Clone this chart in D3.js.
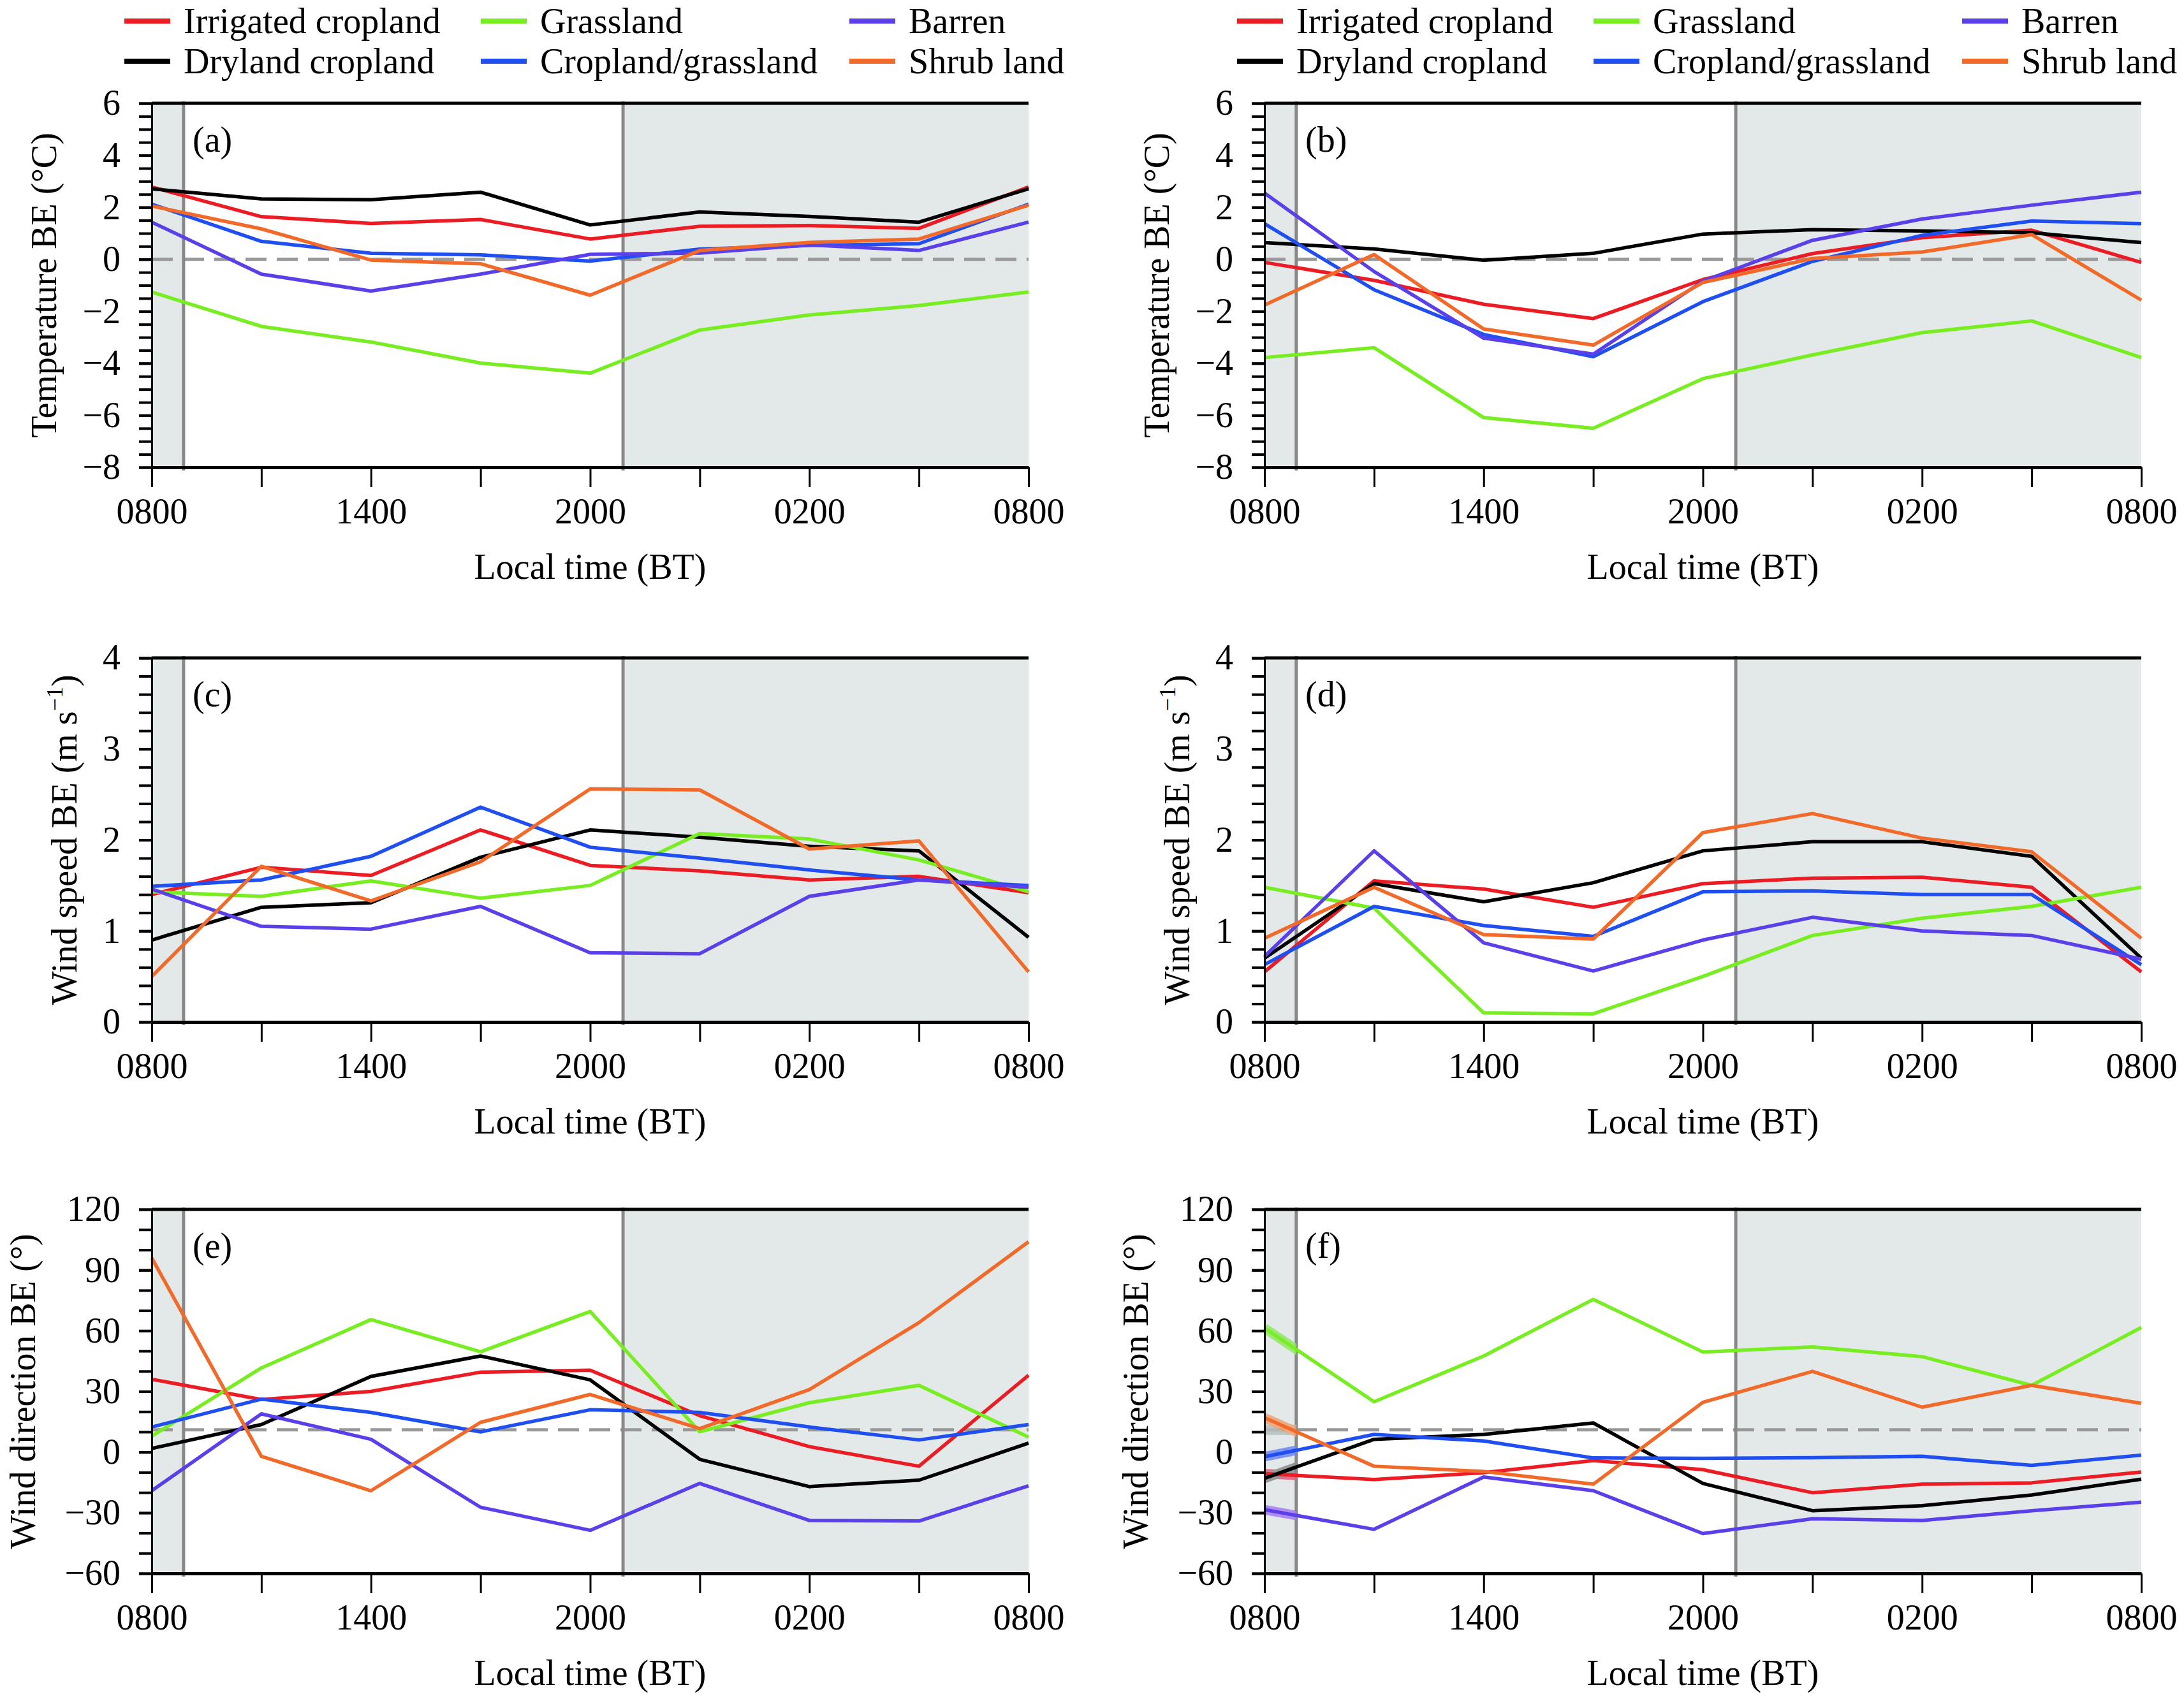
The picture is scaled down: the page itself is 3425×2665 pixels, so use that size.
<!DOCTYPE html>
<html>
<head>
<meta charset="utf-8">
<script src="https://cdn.jsdelivr.net/npm/d3@7"></script>
<style>
  body { margin: 0; background: #fff; }
  svg text { font-family: "Liberation Serif", "Times New Roman", serif; fill: #000; }
</style>
</head>
<body>
<svg id="chart" width="3425" height="2665"></svg>
<script>
// hours after 0800 BT, one point every 3 h
const hours = [0, 3, 6, 9, 12, 15, 18, 21, 24];
const labelHours = [0, 6, 12, 18, 24];
const timeLabels = ["0800", "1400", "2000", "0200", "0800"];
const sunriseHour = 0.87, sunsetHour = 12.9;

const seriesNames = ["Irrigated cropland", "Dryland cropland", "Grassland",
                     "Cropland/grassland", "Barren", "Shrub land"];

// rows follow seriesNames
const tempA = [
  [2.78, 1.64, 1.38, 1.53, 0.78, 1.27, 1.30, 1.19, 2.78],
  [2.71, 2.32, 2.29, 2.58, 1.32, 1.82, 1.65, 1.43, 2.71],
  [-1.26, -2.58, -3.18, -3.99, -4.38, -2.72, -2.14, -1.78, -1.26],
  [2.12, 0.69, 0.23, 0.17, -0.07, 0.39, 0.53, 0.60, 2.12],
  [1.43, -0.57, -1.22, -0.57, 0.19, 0.24, 0.55, 0.34, 1.43],
  [2.05, 1.17, -0.03, -0.17, -1.38, 0.34, 0.65, 0.78, 2.08]
];
const tempB = [
  [-0.12, -0.81, -1.73, -2.28, -0.78, 0.22, 0.83, 1.12, -0.12],
  [0.64, 0.40, -0.04, 0.23, 0.97, 1.14, 1.09, 1.02, 0.64],
  [-3.78, -3.40, -6.09, -6.50, -4.59, -3.68, -2.82, -2.37, -3.78],
  [1.37, -1.17, -2.89, -3.75, -1.63, -0.08, 0.92, 1.47, 1.37],
  [2.55, -0.47, -3.03, -3.65, -0.84, 0.73, 1.55, 2.08, 2.58],
  [-1.76, 0.18, -2.68, -3.30, -0.89, 0.03, 0.28, 0.95, -1.57]
];
const speedC = [
  [1.40, 1.70, 1.61, 2.11, 1.72, 1.66, 1.56, 1.60, 1.42],
  [0.90, 1.26, 1.31, 1.81, 2.11, 2.03, 1.93, 1.88, 0.93],
  [1.43, 1.38, 1.55, 1.36, 1.50, 2.07, 2.01, 1.78, 1.43],
  [1.49, 1.56, 1.82, 2.36, 1.92, 1.80, 1.67, 1.56, 1.50],
  [1.46, 1.05, 1.02, 1.27, 0.76, 0.75, 1.38, 1.56, 1.48],
  [0.50, 1.71, 1.33, 1.76, 2.56, 2.55, 1.90, 1.99, 0.55]
];
const speedD = [
  [0.55, 1.55, 1.46, 1.26, 1.52, 1.58, 1.59, 1.48, 0.55],
  [0.70, 1.52, 1.32, 1.53, 1.88, 1.98, 1.98, 1.82, 0.70],
  [1.48, 1.25, 0.10, 0.09, 0.50, 0.95, 1.14, 1.27, 1.48],
  [0.63, 1.27, 1.06, 0.94, 1.43, 1.44, 1.40, 1.40, 0.63],
  [0.72, 1.88, 0.87, 0.56, 0.90, 1.15, 1.00, 0.95, 0.69],
  [0.92, 1.48, 0.96, 0.91, 2.08, 2.29, 2.02, 1.87, 0.92]
];
const dirE = [
  [36, 26, 30, 39.5, 40.5, 18, 2.7, -7, 38],
  [1.8, 13.6, 37.4, 47.5, 35.7, -3.6, -17.1, -13.9, 4.4],
  [7.9, 41.6, 65.5, 49.6, 69.5, 10, 24.4, 33, 7.4],
  [12.4, 26.2, 19.6, 10, 20.9, 19.6, 12.4, 6, 13.6],
  [-19.1, 18.9, 6.3, -27.3, -38.7, -15.5, -33.8, -34.1, -16.7],
  [96, -2.1, -19.1, 14.7, 28.5, 11.6, 30.9, 64, 104]
];
const dirF = [
  [-10.7, -13.6, -10.2, -4.2, -8.7, -20.1, -15.9, -15.2, -9.9],
  [-13, 6.3, 8.7, 14.4, -15.5, -29, -26.5, -21.2, -13.4],
  [61.3, 24.9, 47.5, 75.5, 49.5, 52, 47.2, 33, 61.6],
  [-2.3, 8.7, 5.5, -2.9, -3.1, -2.8, -2.1, -6.6, -1.5],
  [-28.5, -38.2, -12.3, -19.1, -40.3, -33, -33.8, -29, -24.8],
  [17, -7, -9.6, -15.9, 24.6, 39.9, 22.2, 33, 24.1]
];

const colors = ["#ec1c24", "#000000", "#78ee22", "#1f4ff0", "#5a40e8", "#f26a2a"];
const glowColors = ["#e85a78", "#8a8a8a", "#8fe860", "#6f86f4", "#a67cf2", "#eea070"];

const svg = d3.select("#chart");
const colLeft = [238, 1983], rowTop = [162, 1032, 1897];
const plotW = 1375, plotH = 571;

const panels = [
  {id: "a", col: 0, row: 0, data: tempA, domain: [-8, 6], major: [-8, -6, -4, -2, 0, 2, 4, 6], minor: 0.5, ref: 0, title: "temp", titleOff: 170},
  {id: "b", col: 1, row: 0, data: tempB, domain: [-8, 6], major: [-8, -6, -4, -2, 0, 2, 4, 6], minor: 0.5, ref: 0, title: "temp", titleOff: 170},
  {id: "c", col: 0, row: 1, data: speedC, domain: [0, 4], major: [0, 1, 2, 3, 4], minor: 0.2, ref: null, title: "speed", titleOff: 138},
  {id: "d", col: 1, row: 1, data: speedD, domain: [0, 4], major: [0, 1, 2, 3, 4], minor: 0.2, ref: null, title: "speed", titleOff: 138},
  {id: "e", col: 0, row: 2, data: dirE, domain: [-60, 120], major: [-60, -30, 0, 30, 60, 90, 120], minor: 10, ref: 11, title: "dir", titleOff: 203},
  {id: "f", col: 1, row: 2, data: dirF, domain: [-60, 120], major: [-60, -30, 0, 30, 60, 90, 120], minor: 10, ref: 11, title: "dir", titleOff: 203, glow: true}
];

panels.forEach(p => {
  const g = svg.append("g")
      .attr("transform", `translate(${colLeft[p.col]},${rowTop[p.row]})`);
  const x = d3.scaleLinear().domain([0, 24]).range([0, plotW]);
  const y = d3.scaleLinear().domain(p.domain).range([plotH, 0]);

  // night shading
  g.append("rect").attr("x", x(0)).attr("y", 0)
      .attr("width", x(sunriseHour) - x(0)).attr("height", plotH).attr("fill", "#e3e8e8");
  g.append("rect").attr("x", x(sunsetHour)).attr("y", 0)
      .attr("width", x(24) - x(sunsetHour)).attr("height", plotH).attr("fill", "#e3e8e8");

  if (p.ref !== null) {
    g.append("line")
        .attr("x1", x(0)).attr("x2", x(24)).attr("y1", y(p.ref)).attr("y2", y(p.ref))
        .attr("stroke", "#999").attr("stroke-width", 5).attr("stroke-dasharray", "33,16");
  }

  [sunriseHour, sunsetHour].forEach(h => {
    g.append("line")
        .attr("x1", x(h)).attr("x2", x(h)).attr("y1", -3).attr("y2", plotH + 5)
        .attr("stroke", "#888").attr("stroke-width", 5);
  });

  const line = d3.line().x((d, i) => x(hours[i])).y(d => y(d));

  // smudged strokes at the start of panel (f)
  if (p.glow) {
    const clipId = "clip-" + p.id;
    g.append("clipPath").attr("id", clipId)
      .append("rect").attr("x", 0).attr("y", -10)
      .attr("width", x(sunriseHour)).attr("height", plotH + 20);
    const gg = g.append("g").attr("clip-path", `url(#${clipId})`).attr("opacity", 0.85);
    gg.append("line")
        .attr("x1", x(0)).attr("x2", x(24)).attr("y1", y(p.ref)).attr("y2", y(p.ref))
        .attr("stroke", "#b4bcbc").attr("stroke-width", 16);
    p.data.forEach((vals, si) => {
      gg.append("path").datum(vals).attr("d", line)
          .attr("fill", "none").attr("stroke", glowColors[si]).attr("stroke-width", 15);
    });
  }

  p.data.forEach((vals, si) => {
    g.append("path").datum(vals).attr("d", line)
        .attr("fill", "none").attr("stroke", colors[si])
        .attr("stroke-width", 5.5).attr("stroke-linejoin", "round");
  });

  // top frame line
  g.append("line").attr("x1", 0).attr("x2", plotW).attr("y1", 0).attr("y2", 0)
      .attr("stroke", "#000").attr("stroke-width", 5);

  const xAxis = g.append("g")
      .attr("transform", `translate(0,${plotH})`)
      .call(d3.axisBottom(x).tickValues(hours).tickSize(31).tickSizeOuter(0).tickPadding(17)
          .tickFormat(h => {
            const k = labelHours.indexOf(h);
            return k >= 0 ? timeLabels[k] : "";
          }));
  xAxis.select(".domain").attr("stroke-width", 5);
  xAxis.selectAll(".tick line").attr("stroke-width", 3);
  xAxis.selectAll("text").attr("font-size", 56);

  const nMinor = Math.round((p.domain[1] - p.domain[0]) / p.minor);
  const minorVals = d3.range(nMinor + 1).map(i => p.domain[0] + i * p.minor);
  const yMinor = g.append("g")
      .call(d3.axisLeft(y).tickValues(minorVals).tickSize(20).tickSizeOuter(0).tickFormat(""));
  yMinor.selectAll(".tick line").attr("stroke-width", 4);
  yMinor.select(".domain").attr("stroke-width", 3);
  const yAxis = g.append("g")
      .call(d3.axisLeft(y).tickValues(p.major).tickSize(20).tickSizeOuter(0).tickPadding(29)
          .tickFormat(d3.format("d")));
  yAxis.select(".domain").remove();
  yAxis.selectAll(".tick line").attr("stroke-width", 4);
  yAxis.selectAll("text").attr("font-size", 56);

  g.append("text").attr("x", 64).attr("y", 76).attr("font-size", 56).text(`(${p.id})`);

  g.append("text").attr("x", plotW / 2).attr("y", plotH + 175)
      .attr("text-anchor", "middle").attr("font-size", 56).text("Local time (BT)");

  const yt = g.append("text")
      .attr("transform", `translate(${-p.titleOff},${plotH / 2}) rotate(-90)`)
      .attr("text-anchor", "middle").attr("dy", "0.35em").attr("font-size", 56);
  if (p.title === "temp") {
    yt.text("Temperature BE (°C)");
  } else if (p.title === "speed") {
    yt.append("tspan").text("Wind speed BE (m s");
    yt.append("tspan").attr("font-size", 36).attr("dy", -22).text("−1");
    yt.append("tspan").attr("dy", 22).text(")");
  } else {
    yt.text("Wind direction BE (°)");
  }
});

// legends above both columns, filled column by column
const legendColX = [-43, 516, 1094], legendRowY = [52, 115];
colLeft.forEach(left => {
  const lg = svg.append("g").attr("transform", `translate(${left},0)`);
  seriesNames.forEach((name, i) => {
    const lx = legendColX[Math.floor(i / 2)], ly = legendRowY[i % 2];
    lg.append("line").attr("x1", lx).attr("x2", lx + 72)
        .attr("y1", ly - 19).attr("y2", ly - 19)
        .attr("stroke", colors[i]).attr("stroke-width", 8);
    lg.append("text").attr("x", lx + 93).attr("y", ly).attr("font-size", 56).text(name);
  });
});
</script>
</body>
</html>
